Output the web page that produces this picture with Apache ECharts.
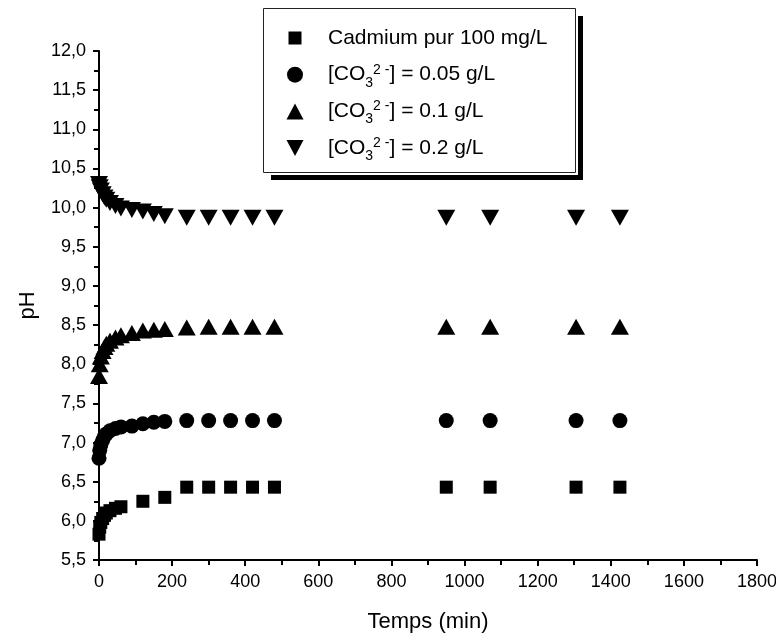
<!DOCTYPE html>
<html>
<head>
<meta charset="utf-8">
<script src="https://cdn.jsdelivr.net/npm/echarts@6/dist/echarts.min.js"></script>
<style>
html,body{margin:0;padding:0;background:#fff;}
#chart{width:776px;height:639px;}
</style>
</head>
<body>
<div id="chart"></div>
<script>
// Data
var seriesNames = ['Cadmium pur 100 mg/L', 'CO3 0.05', 'CO3 0.1', 'CO3 0.2'];
var co3Values = ['0.05', '0.1', '0.2'];
var timeSquare = [0, 2, 5, 10, 15, 20, 30, 45, 60, 120, 180, 240, 300, 360, 420, 480, 950, 1070, 1305, 1425];
var phCadmium  = [5.83, 5.92, 5.98, 6.03, 6.07, 6.10, 6.13, 6.16, 6.18, 6.25, 6.30, 6.43, 6.43, 6.43, 6.43, 6.43, 6.43, 6.43, 6.43, 6.43];
var timeCO3 = [0, 2, 5, 10, 15, 20, 30, 45, 60, 90, 120, 150, 180, 240, 300, 360, 420, 480, 950, 1070, 1305, 1425];
var phCO3_005 = [6.80, 6.90, 6.97, 7.03, 7.08, 7.11, 7.15, 7.18, 7.20, 7.21, 7.24, 7.26, 7.27, 7.28, 7.28, 7.28, 7.28, 7.28, 7.28, 7.28, 7.28, 7.28];
var phCO3_01  = [7.85, 8.00, 8.10, 8.17, 8.22, 8.26, 8.30, 8.34, 8.37, 8.40, 8.43, 8.44, 8.45, 8.47, 8.48, 8.48, 8.48, 8.48, 8.48, 8.48, 8.48, 8.48];
var phCO3_02  = [10.30, 10.26, 10.22, 10.17, 10.13, 10.10, 10.06, 10.02, 9.99, 9.97, 9.95, 9.92, 9.89, 9.87, 9.87, 9.87, 9.87, 9.87, 9.87, 9.87, 9.87, 9.87];
var xTicks = [0, 200, 400, 600, 800, 1000, 1200, 1400, 1600, 1800];
var yTicks = [5.5, 6.0, 6.5, 7.0, 7.5, 8.0, 8.5, 9.0, 9.5, 10.0, 10.5, 11.0, 11.5, 12.0];

function pairs(xs, ys) { return xs.map(function (x, i) { return [x, ys[i]]; }); }

var FONT = 'Liberation Sans';
var chart = echarts.init(document.getElementById('chart'), null, {renderer: 'canvas'});

var legendRich = {
  t: {fontSize: 21, fontFamily: FONT, color: '#000', lineHeight: 32, verticalAlign: 'middle'},
  sub: {fontSize: 14, fontFamily: FONT, color: '#000', lineHeight: 14, verticalAlign: 'bottom', padding: [0, 0, 1, 0]},
  sup: {fontSize: 14, fontFamily: FONT, color: '#000', lineHeight: 14, verticalAlign: 'top', padding: [4, 0, 0, 0]}
};

var ICON_SQ = 'path://M0,0 L0.01,0 L0.01,0.01 Z M18,16 L17.99,16 L17.99,15.99 Z M2.5,1.5 L15.5,1.5 L15.5,14.5 L2.5,14.5 Z';
var ICON_UP = 'path://M0,16 L17,16 L8.5,0 Z';
var ICON_DN = 'path://M0,0 L17,0 L8.5,16 Z';

var option = {
  animation: false,
  backgroundColor: '#fff',
  grid: {left: 99, right: 19, top: 51, bottom: 79, containLabel: false, outerBoundsMode: 'none'},
  graphic: [
    {type: 'rect', z: 3, shape: {x: 271, y: 16, width: 312, height: 164}, style: {fill: '#000'}},
    {type: 'rect', z: 3, shape: {x: 262, y: 7, width: 316, height: 168}, style: {fill: '#fff'}},
    {type: 'rect', z: 3, shape: {x: 263.5, y: 8.5, width: 312, height: 164}, style: {fill: '#fff', stroke: '#222', lineWidth: 1}}
  ],
  legend: {
    z: 6,
    orient: 'vertical',
    left: 281,
    top: 22.5,
    itemGap: 4.7,
    itemWidth: 18,
    itemHeight: 16,
    data: [
      {name: seriesNames[0], icon: ICON_SQ},
      {name: seriesNames[1], icon: 'circle'},
      {name: seriesNames[2], icon: ICON_UP},
      {name: seriesNames[3], icon: ICON_DN}
    ],
    textStyle: {fontFamily: FONT, fontSize: 21, color: '#000', padding: [0, 0, 0, 19], rich: legendRich},
    formatter: function (name) {
      var i = seriesNames.indexOf(name);
      if (i === 0) return '{t|Cadmium pur 100 mg/L}{sub| }';
      return '{t|[CO}{sub|3}{sup|2 -}{t|] = ' + co3Values[i - 1] + ' g/L}';
    }
  },
  xAxis: {
    type: 'value', min: 0, max: 1800, interval: 200,
    name: 'Temps (min)', nameLocation: 'middle', nameGap: 51,
    nameTextStyle: {fontFamily: FONT, fontSize: 22, color: '#000'},
    axisLine: {show: true, onZero: false, lineStyle: {color: '#000', width: 2}},
    axisTick: {show: true, inside: false, length: 6, lineStyle: {color: '#000', width: 2}},
    minorTick: {show: true, splitNumber: 2, length: 5, lineStyle: {color: '#000', width: 2}},
    splitLine: {show: false},
    axisLabel: {fontFamily: FONT, fontSize: 18, color: '#000', margin: 13,
      formatter: function (v) { return xTicks.indexOf(v) >= 0 ? String(v) : ''; }}
  },
  yAxis: {
    type: 'value', min: 5.5, max: 12, interval: 0.5,
    name: 'pH', nameLocation: 'middle', nameGap: 60, nameRotate: 90,
    nameTextStyle: {fontFamily: FONT, fontSize: 22, color: '#000'},
    axisLine: {show: true, onZero: false, lineStyle: {color: '#000', width: 2}},
    axisTick: {show: true, inside: false, length: 6, lineStyle: {color: '#000', width: 2}},
    minorTick: {show: true, splitNumber: 2, length: 5, lineStyle: {color: '#000', width: 2}},
    splitLine: {show: false},
    axisLabel: {fontFamily: FONT, fontSize: 18, color: '#000', margin: 13,
      formatter: function (v) {
        var ok = yTicks.some(function (t) { return Math.abs(t - v) < 1e-6; });
        return ok ? v.toFixed(1).replace('.', ',') : '';
      }}
  },
  series: [
    {name: seriesNames[0], type: 'scatter', symbol: 'rect', symbolSize: 13,
      itemStyle: {color: '#000', opacity: 1}, data: pairs(timeSquare, phCadmium)},
    {name: seriesNames[1], type: 'scatter', symbol: 'circle', symbolSize: 15,
      itemStyle: {color: '#000', opacity: 1}, data: pairs(timeCO3, phCO3_005)},
    {name: seriesNames[2], type: 'scatter', symbol: 'triangle', symbolSize: [18, 16],
      itemStyle: {color: '#000', opacity: 1}, data: pairs(timeCO3, phCO3_01)},
    {name: seriesNames[3], type: 'scatter', symbol: 'triangle', symbolRotate: 180, symbolSize: [18, 16],
      itemStyle: {color: '#000', opacity: 1}, data: pairs(timeCO3, phCO3_02)}
  ]
};
chart.setOption(option);
</script>
</body>
</html>
